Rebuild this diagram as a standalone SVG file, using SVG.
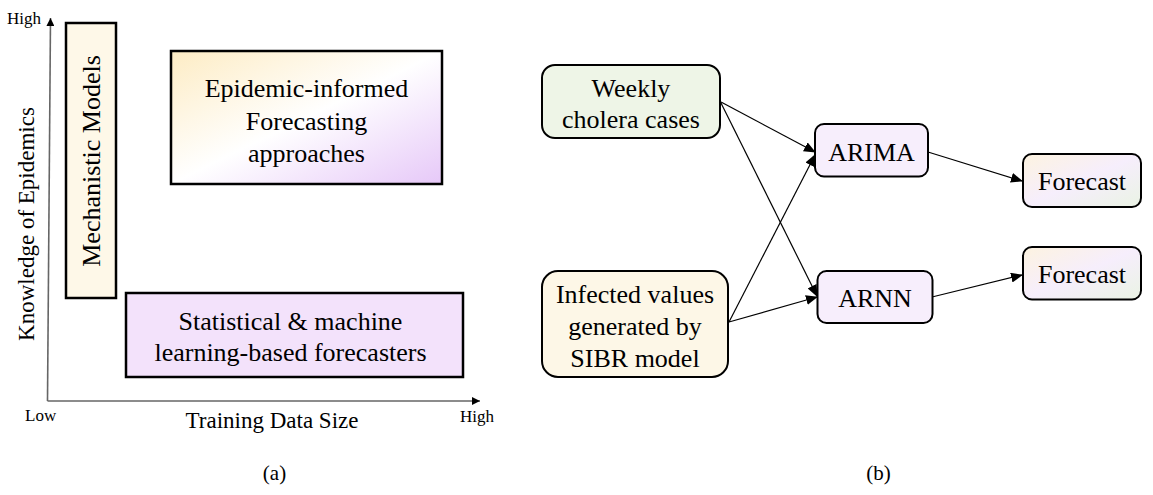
<svg xmlns="http://www.w3.org/2000/svg" width="1153" height="495" viewBox="0 0 1153 495" font-family="'Liberation Serif', 'DejaVu Serif', serif">
<style>
text{font-family:'Liberation Serif', 'DejaVu Serif', serif;fill:#000}
.big{font-size:26px;text-anchor:middle}
.ax{font-size:23px;text-anchor:middle}
.sm{font-size:17px}
.box{stroke:#000;stroke-width:2.5}
.rbox{stroke:#000;stroke-width:2}
.con{stroke:#000;stroke-width:1.2;fill:none;marker-end:url(#ah)}
.axis{stroke:#666;stroke-width:1.6;fill:none}
</style>
<defs>
<marker id="ah" markerWidth="12" markerHeight="10" refX="11" refY="5" orient="auto" markerUnits="userSpaceOnUse">
<path d="M0,0 L12,5 L0,10 z" fill="#000"/>
</marker>
<marker id="axh" markerWidth="8" markerHeight="8" refX="8" refY="4" orient="auto" markerUnits="userSpaceOnUse">
<path d="M0,0 L8,4 L0,8 z" fill="#000"/>
</marker>
<linearGradient id="g1" x1="0" y1="0" x2="1" y2="1">
<stop offset="0" stop-color="#fdecc4"/>
<stop offset="0.5" stop-color="#ffffff"/>
<stop offset="1" stop-color="#e6c8f8"/>
</linearGradient>
<linearGradient id="g2" x1="0" y1="0" x2="1" y2="1">
<stop offset="0" stop-color="#fdf3e0"/>
<stop offset="0.5" stop-color="#f6eefc"/>
<stop offset="1" stop-color="#eaf3e4"/>
</linearGradient>
</defs>

<g id="axes">
<line class="axis" x1="47.5" y1="401" x2="50.5" y2="18" marker-end="url(#axh)"/>
<line class="axis" x1="47.5" y1="401" x2="480" y2="401" marker-end="url(#axh)"/>
<text class="sm" x="7" y="24">High</text>
<text class="sm" x="25" y="421">Low</text>
<text class="sm" x="460" y="422">High</text>
<text class="ax" x="272" y="428">Training Data Size</text>
<text class="ax" transform="translate(34,224) rotate(-90)">Knowledge of Epidemics</text>
</g>

<g id="mechanistic">
<rect class="box" x="66" y="23" width="50" height="275" fill="#fef8e8"/>
<text class="big" transform="translate(100,161) rotate(-90)">Mechanistic Models</text>
</g>

<g id="epidemic-informed">
<rect class="box" x="171" y="51" width="271" height="133" fill="url(#g1)"/>
<text class="big" x="306.5" y="97">Epidemic-informed</text>
<text class="big" x="306.5" y="130">Forecasting</text>
<text class="big" x="306.5" y="162">approaches</text>
</g>

<g id="statistical">
<rect class="box" x="126" y="293" width="337" height="84" fill="#f3e2fb"/>
<text class="big" x="290.5" y="330">Statistical &amp; machine</text>
<text class="big" x="290.5" y="361">learning-based forecasters</text>
</g>

<text x="274.5" y="480" style="font-size:21px;text-anchor:middle">(a)</text>
<text x="878.5" y="480" style="font-size:21px;text-anchor:middle">(b)</text>

<g id="connectors">
<line class="con" x1="721" y1="102" x2="815" y2="152"/>
<line class="con" x1="721" y1="103" x2="817" y2="296"/>
<line class="con" x1="729" y1="322" x2="815" y2="155"/>
<line class="con" x1="729" y1="322" x2="817" y2="297"/>
<line class="con" x1="928" y1="152" x2="1022" y2="181"/>
<line class="con" x1="932" y1="297" x2="1022" y2="275"/>
</g>

<g id="weekly">
<rect class="rbox" x="542" y="65" width="178" height="73" rx="13" fill="#eef5e7"/>
<text class="big" x="631" y="97">Weekly</text>
<text class="big" x="631" y="128">cholera cases</text>
</g>

<g id="infected">
<rect class="rbox" x="542" y="271" width="186" height="106" rx="16" fill="#fdf7e7"/>
<text class="big" x="635" y="303">Infected values</text>
<text class="big" x="635" y="335">generated by</text>
<text class="big" x="635" y="367">SIBR model</text>
</g>

<g id="arima">
<rect class="rbox" x="815" y="124" width="113" height="52.5" rx="9" fill="#f7eefc"/>
<text class="big" x="871.5" y="161">ARIMA</text>
</g>

<g id="arnn">
<rect class="rbox" x="817.5" y="271" width="115" height="52" rx="9" fill="#f7eefc"/>
<text class="big" x="875" y="307">ARNN</text>
</g>

<g id="forecast1">
<rect class="rbox" x="1023" y="154" width="118" height="53" rx="9" fill="url(#g2)"/>
<text class="big" x="1082" y="190">Forecast</text>
</g>

<g id="forecast2">
<rect class="rbox" x="1023" y="247" width="118" height="52.5" rx="9" fill="url(#g2)"/>
<text class="big" x="1082" y="283">Forecast</text>
</g>
</svg>
